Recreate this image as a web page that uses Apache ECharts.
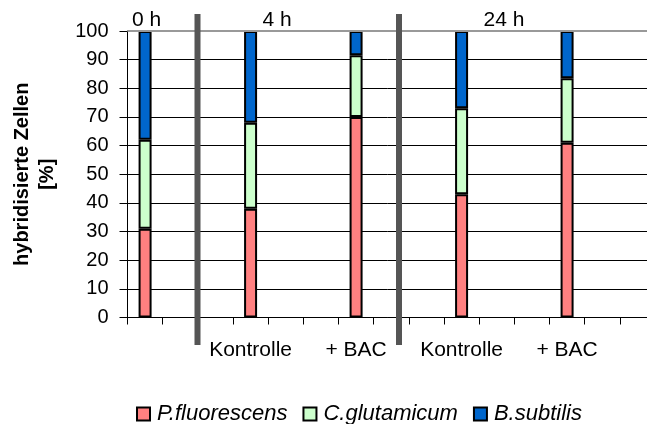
<!DOCTYPE html>
<html><head><meta charset="utf-8">
<script src="https://cdn.jsdelivr.net/npm/echarts@6/dist/echarts.min.js"></script>
<style>html,body{margin:0;padding:0;background:#fff}#c{width:647px;height:424px}</style>
</head><body><div id="c"></div>
<script>
const categories = ['', '', '', 'Kontrolle', '', '', '+ BAC', '', '', 'Kontrolle', '', '', '+ BAC', '', ''];
const pFluorescens = [31, null, null, 38, null, null, 70, null, null, 43, null, null, 61, null, null];
const cGlutamicum  = [31, null, null, 30, null, null, 21.5, null, null, 30, null, null, 22.5, null, null];
const bSubtilis    = [38, null, null, 32, null, null, 8.5, null, null, 27, null, null, 16.5, null, null];
const yTicks = [0, 10, 20, 30, 40, 50, 60, 70, 80, 90, 100];
const timeLabels = ['0 h', '4 h', '24 h'];

const FONT = 'Liberation Sans, Arial, sans-serif';
const chart = echarts.init(document.getElementById('c'), null, {renderer: 'canvas'});
function mk(name, data, color, extra) {
  return Object.assign({
    name, type: 'bar', stack: 'a', data, barWidth: 13,
    itemStyle: {color, borderColor: '#000', borderWidth: 2},
    emphasis: {disabled: true}
  }, extra || {});
}
chart.setOption({
  animation: false,
  textStyle: {fontFamily: FONT},
  grid: {left: 127.5, top: 31, right: -8, bottom: 106.5, containLabel: false, outerBoundsMode: 'none'},
  xAxis: {
    type: 'category', data: categories,
    axisLine: {lineStyle: {color: '#000', width: 1}},
    axisTick: {show: true, length: 7, lineStyle: {color: '#000'}},
    axisLabel: {color: '#000', fontSize: 21, fontFamily: FONT, margin: 22, interval: 0}
  },
  yAxis: {
    type: 'value', min: yTicks[0], max: yTicks[yTicks.length - 1], interval: 10,
    name: 'hybridisierte Zellen\n[%]', nameLocation: 'middle', nameRotate: 90, nameGap: 68,
    nameTextStyle: {color: '#000', fontSize: 20, fontWeight: 'bold', fontFamily: FONT, lineHeight: 25},
    axisLine: {show: true, lineStyle: {color: '#000', width: 1}},
    axisTick: {show: true, length: 8, lineStyle: {color: '#000'}},
    axisLabel: {color: '#000', fontSize: 20, fontFamily: FONT, margin: 19},
    splitLine: {show: true, lineStyle: {color: '#000', width: 1}}
  },
  legend: {
    left: 131, top: 398, itemWidth: 13, itemHeight: 13, itemGap: 15,
    icon: 'rect',
    textStyle: {color: '#000', fontSize: 22, fontStyle: 'italic', fontFamily: FONT, padding: [0, 0, 0, 2]},
    data: ['P.fluorescens', 'C.glutamicum', 'B.subtilis']
  },
  series: [
    mk('P.fluorescens', pFluorescens, '#FF8080'),
    mk('C.glutamicum', cGlutamicum, '#CCFFCC'),
    mk('B.subtilis', bSubtilis, '#0066CC', {
      markLine: {silent: true, symbol: 'none', label: {show: false},
        lineStyle: {color: '#999', width: 2, type: 'solid'},
        data: [{yAxis: 100}]}
    })
  ],
  graphic: [
    {type: 'text', x: 146.5, y: 20, style: {text: timeLabels[0], fontSize: 21, fontFamily: FONT, fill: '#000', align: 'center', verticalAlign: 'middle'}},
    {type: 'text', x: 277, y: 20, style: {text: timeLabels[1], fontSize: 21, fontFamily: FONT, fill: '#000', align: 'center', verticalAlign: 'middle'}},
    {type: 'text', x: 504, y: 20, style: {text: timeLabels[2], fontSize: 21, fontFamily: FONT, fill: '#000', align: 'center', verticalAlign: 'middle'}},
    {type: 'rect', shape: {x: 194.5, y: 14, width: 6, height: 331}, style: {fill: '#555'}, z: 10},
    {type: 'rect', shape: {x: 396, y: 14, width: 6, height: 331}, style: {fill: '#555'}, z: 10}
  ]
});
</script></body></html>
